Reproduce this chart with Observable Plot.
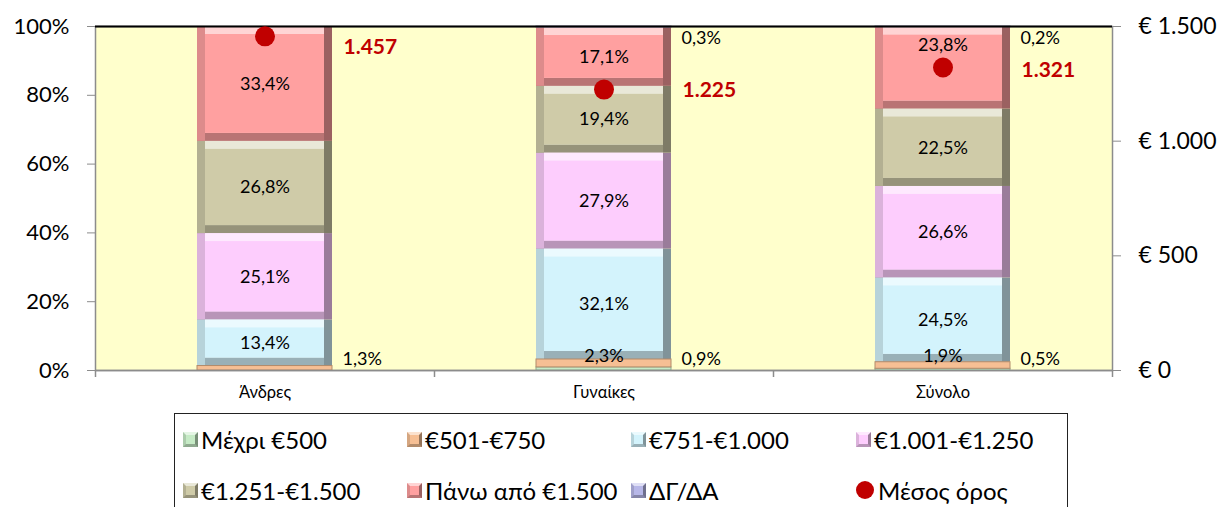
<!DOCTYPE html>
<html><head><meta charset="utf-8">
<script src="https://cdn.jsdelivr.net/npm/d3@7"></script>
<script src="https://cdn.jsdelivr.net/npm/@observablehq/plot@0.6"></script>
<style>
body{margin:0;background:#fff;font-family:Lato,"Noto Sans",sans-serif;}
#chart{position:relative;width:1219px;height:507px;overflow:hidden;}
.legend{position:absolute;left:174px;top:413px;width:894px;height:120px;border:1.5px solid #222;box-sizing:border-box;background:#fff;}
.item{position:absolute;font-size:24px;display:flex;align-items:center;white-space:nowrap;height:28px;color:#000;}
.sw{width:15px;height:15px;margin-right:3px;box-sizing:border-box;border:3px solid;}
.dotsw{width:18px;height:18px;border-radius:50%;background:#c00000;margin-right:4px;}
</style></head><body><div id="chart"></div>
<script>
// ---- data ----
const categories = ["Άνδρες", "Γυναίκες", "Σύνολο"];
const seriesNames = ["Μέχρι €500", "€501-€750", "€751-€1.000", "€1.001-€1.250", "€1.251-€1.500", "Πάνω από €1.500", "ΔΓ/ΔΑ"];
const seriesColors = ["#c6ebc6", "#f6bf94", "#d3f3fc", "#fdcdfd", "#cfcba8", "#ffa0a0", "#b7b7e8"];
const valuesUpTo500   = [0.0, 0.9, 0.5];
const values501to750  = [1.3, 2.3, 1.9];
const values751to1000 = [13.4, 32.1, 24.5];
const values1001to1250 = [25.1, 27.9, 26.6];
const values1251to1500 = [26.8, 19.4, 22.5];
const valuesOver1500  = [33.4, 17.1, 23.8];
const valuesNoAnswer  = [0.0, 0.3, 0.2];
const meanName = "Μέσος όρος";
const meanValues = [1457, 1225, 1321];
const leftTicks = [0, 20, 40, 60, 80, 100];
const rightTicks = [0, 500, 1000, 1500];
const rightMax = 1500;

// ---- build table ----
const seriesValues = [valuesUpTo500, values501to750, values751to1000, values1001to1250, values1251to1500, valuesOver1500, valuesNoAnswer];
const rows = [];
categories.forEach((cat, ci) => {
  let acc = 0;
  seriesValues.forEach((vals, si) => {
    const v = vals[ci];
    rows.push({cat, ci, series: seriesNames[si], color: seriesColors[si], value: v, y1: acc, y2: acc + v});
    acc += v;
  });
});
const means = categories.map((cat, i) => ({cat, mean: meanValues[i], y: meanValues[i] / rightMax * 100}));

const loc = d3.formatLocale({decimal: ",", thousands: ".", grouping: [3], currency: ["€", ""]});
const fmtInt = loc.format(",d");
const pct = v => v.toFixed(1).replace(".", ",") + "%";

const W = 1219, mL = 95, mR = 107, mT = 26, H = 410, mB = 40;
const step = (W - mL - mR) / categories.length;
const barW = 135;
const side = (step - barW) / 2;
const bev = 8;

const big = rows.filter(d => d.value >= 3.5);
const small = rows.filter(d => d.value > 0 && d.value < 3.5);
const darkest = c => d3.color(c).darker(1.4).formatHex();
const dark = c => d3.color(c).darker(0.9).formatHex();
const mid = c => d3.color(c).darker(0.4).formatHex();
const light = c => d3.interpolateRgb(c, "#ffffff")(0.55);

const insideLabels = rows.filter(d => d.value >= 1.5);
const rightLabels = rows.filter(d => d.value > 0 && d.value < 1.5);
const clampY = (m, lo, hi) => Math.min(Math.max(m, lo), hi);
function insideY(d) {
  let m = clampY((d.y1 + d.y2) / 2, 4.2, 96);
  const my = means[d.ci].y;
  if (Math.abs(m - my) < 3) m = Math.min(my + 6.5, d.y2 - 2.5);
  return m;
}
const meanLabelDy = [11, 1, 3];

const plot = Plot.plot({
  width: W, height: H,
  marginLeft: mL, marginRight: mR, marginTop: mT, marginBottom: mB,
  style: {fontFamily: "Lato, 'Noto Sans', sans-serif", fontSize: "16px", background: "transparent", color: "#000"},
  x: {domain: categories, padding: 0, label: null},
  y: {domain: [0, 100], label: null},
  marks: [
    Plot.frame({fill: "#ffffcc", stroke: "#8c8c8c", strokeWidth: 1.5}),
    // bevelled bars
    Plot.rect(big, {x: "cat", y1: "y1", y2: "y2", fill: d => darkest(d.color), insetLeft: side, insetRight: side}),
    Plot.rect(big, {x: "cat", y1: "y1", y2: "y2", fill: d => mid(d.color), insetLeft: side, insetRight: side + bev}),
    Plot.rect(big, {x: "cat", y1: "y1", y2: "y2", fill: d => dark(d.color), insetLeft: side + bev, insetRight: side + bev, insetTop: bev}),
    Plot.rect(big, {x: "cat", y1: "y1", y2: "y2", fill: d => light(d.color), insetLeft: side + bev, insetRight: side + bev, insetBottom: bev}),
    Plot.rect(big, {x: "cat", y1: "y1", y2: "y2", fill: "color", insetLeft: side + bev, insetRight: side + bev, insetTop: bev, insetBottom: bev}),
    Plot.rect(small, {x: "cat", y1: "y1", y2: "y2", fill: "color", stroke: d => dark(d.color), strokeWidth: 1, insetLeft: side, insetRight: side}),
    Plot.ruleY([100], {stroke: "#000", strokeWidth: 2}),
    Plot.ruleY([0], {stroke: "#8c8c8c", strokeWidth: 1.5}),
    // x-axis boundary ticks
    Plot.ruleX(categories, {x: d => d, dx: step / 2, y1: 0, y2: 0, insetBottom: -7, stroke: "#8c8c8c", strokeWidth: 1.5}),
    Plot.ruleX(categories.slice(0, 1), {x: d => d, dx: -step / 2, y1: 0, y2: 0, insetBottom: -7, stroke: "#8c8c8c", strokeWidth: 1.5}),
    Plot.axisY(leftTicks, {anchor: "left", tickFormat: d => d + "%", tickSize: 8, tickPadding: 18, fontSize: 22, stroke: "#8c8c8c"}),
    Plot.axisY(rightTicks.map(t => t / rightMax * 100), {anchor: "right", tickFormat: d => "€ " + fmtInt(Math.round(d * rightMax / 100)), tickSize: 8, tickPadding: 18, fontSize: 23, stroke: "#8c8c8c"}),
    Plot.axisX({tickSize: 0, tickPadding: 16, fontSize: 16.5}),
    // segment labels
    Plot.text(insideLabels, {x: "cat", y: insideY, text: d => pct(d.value), fontSize: 18, fill: "#000"}),
    Plot.text(rightLabels, {x: "cat", y: d => clampY((d.y1 + d.y2) / 2, 3.2, 96.5), text: d => pct(d.value), fontSize: 18, fill: "#000", textAnchor: "start", dx: barW / 2 + 10}),
    // mean
    Plot.dot(means, {x: "cat", y: "y", r: 10, fill: "#c00000"}),
    ...means.map((m, i) => Plot.text([m], {x: "cat", y: "y", text: d => fmtInt(d.mean), fontSize: 21, fontWeight: "bold", fill: "#c00000", textAnchor: "start", dx: barW / 2 + 11, dy: meanLabelDy[i]}))
  ]
});
document.getElementById("chart").appendChild(plot);

// legend
const legend = document.createElement("div");
legend.className = "legend";
const colX = [8, 232, 456, 681];
const rowY = [11, 62];
const legendItems = seriesNames.map((n, i) => ({name: n, color: seriesColors[i]})).concat([{name: meanName, dot: true}]);
legendItems.forEach((it, i) => {
  const el = document.createElement("div");
  el.className = "item";
  el.style.left = colX[i % 4] + "px";
  el.style.top = rowY[Math.floor(i / 4)] + "px";
  const sw = document.createElement("div");
  if (it.dot) { sw.className = "dotsw"; }
  else {
    sw.className = "sw";
    sw.style.background = it.color;
    sw.style.borderColor = `${light(it.color)} ${darkest(it.color)} ${dark(it.color)} ${mid(it.color)}`;
  }
  el.appendChild(sw);
  const t = document.createElement("span");
  t.textContent = it.name;
  el.appendChild(t);
  legend.appendChild(el);
});
document.getElementById("chart").appendChild(legend);
</script>
</body></html>
